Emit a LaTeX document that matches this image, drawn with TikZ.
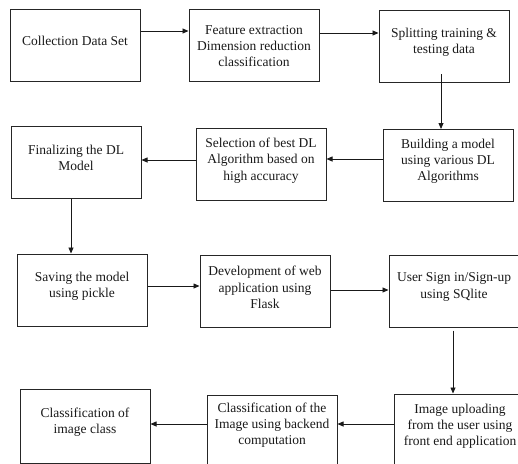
\documentclass[tikz,border=0pt]{standalone}
\usepackage{fontspec}
\setmainfont{Liberation Serif}
\usetikzlibrary{positioning, arrows.meta}

\begin{document}
\begin{tikzpicture}[
        x=1pt, y=-1pt,
        box/.style={rectangle, draw=black!85, line width=1pt, minimum height=72pt, minimum width=130pt, inner sep=0pt},
        txt/.style={align=center, font=\fontsize{13.5}{16.2}\selectfont, text=black!90, yshift=4pt},
        arrow/.style={-{Triangle[length=6pt, width=5pt]}, line width=0.8pt, draw=black!90},
        node distance=46pt and 56pt
    ]
    \useasboundingbox (0,0) rectangle (518,463);
    \clip (0,0) rectangle (518,463);

    % First row (left to right)
    \node[box, label={[txt]center:Collection Data Set}] (collect) at (75,45) {};
    \node[box, right=48pt of collect, label={[txt, yshift=-5pt]center:Feature extraction\\Dimension reduction\\classification}] (feature) {};
    \node[box, right=59pt of feature, yshift=-1.5pt, label={[txt]center:Splitting training \&\\testing data}] (split) {};

    % Second row (right to left)
    \node[box, below=46pt of split, xshift=4pt, label={[txt]center:Building a model\\using various DL\\Algorithms}] (build) {};
    \node[box, left=56pt of build, yshift=1pt, label={[txt]center:Selection of best DL\\Algorithm based on\\high accuracy}] (select) {};
    \node[box, left=54pt of select, yshift=2.5pt, label={[txt]center:Finalizing the DL\\Model}] (final) {};

    % Third row (left to right)
    \node[box, below=55pt of final, xshift=6pt, label={[txt]center:Saving the model\\using pickle}] (save) {};
    \node[box, right=52pt of save, yshift=-1.5pt, label={[txt]center:Development of web\\application using\\Flask}] (webapp) {};
    \node[box, right=58pt of webapp, yshift=0.5pt, label={[txt]center:User Sign in/Sign-up\\using SQlite}] (signin) {};

    % Fourth row (right to left, cut off at the page edge)
    \node[box, below=66pt of signin, xshift=7pt, minimum width=134pt, minimum height=78pt, label={[txt, yshift=3pt, xshift=-1pt]center:Image uploading\\from the user using\\front end application}] (upload) {};
    \node[box, left=56pt of upload, yshift=-1pt, minimum height=78pt, label={[txt, yshift=5pt]center:Classification of the\\Image using backend\\computation}] (backend) {};
    \node[box, left=56pt of backend, yshift=8pt, minimum height=74pt, label={[txt]center:Classification of\\image class}] (result) {};

    % Arrows
    \draw[arrow] ([yshift=14pt]collect.east) -- ([yshift=14pt]feature.west);
    \draw[arrow] ([yshift=12pt]feature.east) -- ([yshift=13.5pt]split.west);
    \draw[arrow] ([xshift=-3pt, yshift=9pt]split.south) -- ([xshift=-7pt]build.north);
    \draw[arrow] ([yshift=6.5pt]build.west) -- ([yshift=5.5pt]select.east);
    \draw[arrow] ([yshift=4.5pt]select.west) -- ([yshift=2pt]final.east);
    \draw[arrow] ([xshift=-5pt]final.south) -- ([xshift=-11pt]save.north);
    \draw[arrow] ([yshift=4pt]save.east) -- ([yshift=5.5pt]webapp.west);
    \draw[arrow] ([yshift=1.5pt]webapp.east) -- ([yshift=1pt]signin.west);
    \draw[arrow] ([xshift=-1pt, yshift=-3pt]signin.south) -- ([xshift=-8pt]upload.north);
    \draw[arrow] ([yshift=9pt]upload.west) -- ([yshift=10pt]backend.east);
    \draw[arrow] ([yshift=10pt]backend.west) -- ([yshift=2pt]result.east);

\end{tikzpicture}
\end{document}
